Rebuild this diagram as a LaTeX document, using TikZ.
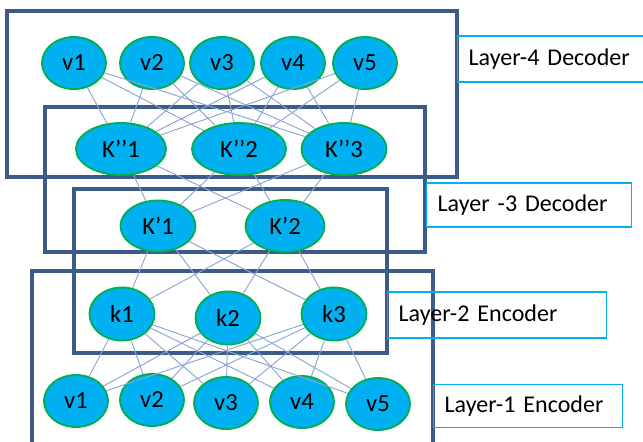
\documentclass[tikz,border=0pt]{standalone}
\usepackage{fontspec}
\setmainfont{Carlito}
\usetikzlibrary{shapes.geometric}
\definecolor{unitfill}{HTML}{00B0F0}
\definecolor{unitline}{HTML}{00B050}
\definecolor{boxline}{HTML}{3D5B88}
\definecolor{linkline}{HTML}{8AA6D4}
\definecolor{tagline}{HTML}{00B0F0}
\tikzset{
  unit/.style={ellipse, draw=unitline, fill=unitfill, line width=1.6pt, inner sep=0pt,
    font=\fontsize{21}{25}\selectfont},
  vunit/.style={unit, minimum width=1.92cm, minimum height=1.56cm},
  kunit/.style={unit, minimum width=1.95cm, minimum height=1.59cm},
  layerbox/.style={draw=boxline, line width=2.9pt},
  tag/.style={draw=tagline, line width=1pt, anchor=west, inner xsep=0.33cm, inner ysep=0pt,
    align=left, font=\fontsize{20.5}{24}\selectfont},
  link/.style={draw=linkline, line width=0.8pt}
}
\begin{document}
\begin{tikzpicture}[x=0.03cm, y=-0.03cm]
      \useasboundingbox (0,0) rectangle (643,441);
      % layer frames
      \draw[layerbox] (7,11) rectangle (457,177);
      \draw[layerbox] (45,107) rectangle (425,252);
      \draw[layerbox] (74,189) rectangle (387,353);
      \draw[layerbox] (32,450) -- (32,271) -- (433,271) -- (433,450);
      % tags
      \node[tag, minimum height=1.38cm, text width=4.98cm] (L4) at (457,59) {Layer-4 Decoder};
      \node[tag, minimum height=1.32cm, text width=5.49cm] (L3) at (426,205) {Layer -3 Decoder};
      \node[tag, minimum height=1.38cm, text width=5.91cm] (L2) at (387,315) {Layer-2 Encoder};
      \node[tag, minimum height=1.29cm, text width=5.01cm] (L1) at (433,406) {Layer-1 Encoder};
      % units
      \draw
        (74,63) node[vunit] (dv1){v1}
        (152,63) node[vunit] (dv2){v2}
        (222,63) node[vunit] (dv3){v3}
        (293,63) node[vunit] (dv4){v4}
        (365,63) node[vunit] (dv5){v5}
        (121,149) node[unit, minimum width=2.7cm, minimum height=1.56cm] (kb1){K’’1}
        (239,149) node[unit, minimum width=2.82cm, minimum height=1.56cm] (kb2){K’’2}
        (344,149) node[unit, minimum width=2.55cm, minimum height=1.56cm] (kb3){K’’3}
        (158,226) node[unit, minimum width=2.25cm, minimum height=1.53cm] (ka1){K’1}
        (285,226) node[unit, minimum width=2.37cm, minimum height=1.56cm] (ka2){K’2}
        (122,314) node[kunit] (k1){k1}
        (228,318) node[kunit] (k2){k2}
        (334,314) node[kunit] (k3){k3}
        (76,401) node[vunit] (v1){v1}
        (152,400) node[vunit] (v2){v2}
        (226,403) node[vunit] (v3){v3}
        (302,402) node[vunit] (v4){v4}
        (378,404) node[vunit] (v5){v5};
      \begin{scope}[link]
        \draw (dv1) to (kb1);
        \draw (dv1) to (kb2);
        \draw (dv1) to (kb3);
        \draw (dv2) to (kb1);
        \draw (dv2) to (kb2);
        \draw (dv2) to (kb3);
        \draw (dv3) to (kb1);
        \draw (dv3) to (kb2);
        \draw (dv3) to (kb3);
        \draw (dv4) to (kb1);
        \draw (dv4) to (kb2);
        \draw (dv4) to (kb3);
        \draw (dv5) to (kb1);
        \draw (dv5) to (kb2);
        \draw (dv5) to (kb3);
        \draw (kb1) to (ka1);
        \draw (kb1) to (ka2);
        \draw (kb2) to (ka1);
        \draw (kb2) to (ka2);
        \draw (kb3) to (ka1);
        \draw (kb3) to (ka2);
        \draw (ka1) to (k1);
        \draw (ka1) to (k2);
        \draw (ka1) to (k3);
        \draw (ka2) to (k1);
        \draw (ka2) to (k2);
        \draw (ka2) to (k3);
        \draw (k1) to (v1);
        \draw (k1) to (v2);
        \draw (k1) to (v3);
        \draw (k1) to (v4);
        \draw (k1) to (v5);
        \draw (k2) to (v1);
        \draw (k2) to (v2);
        \draw (k2) to (v3);
        \draw (k2) to (v4);
        \draw (k2) to (v5);
        \draw (k3) to (v1);
        \draw (k3) to (v2);
        \draw (k3) to (v3);
        \draw (k3) to (v4);
        \draw (k3) to (v5);
      \end{scope}
    \end{tikzpicture}
\end{document}
